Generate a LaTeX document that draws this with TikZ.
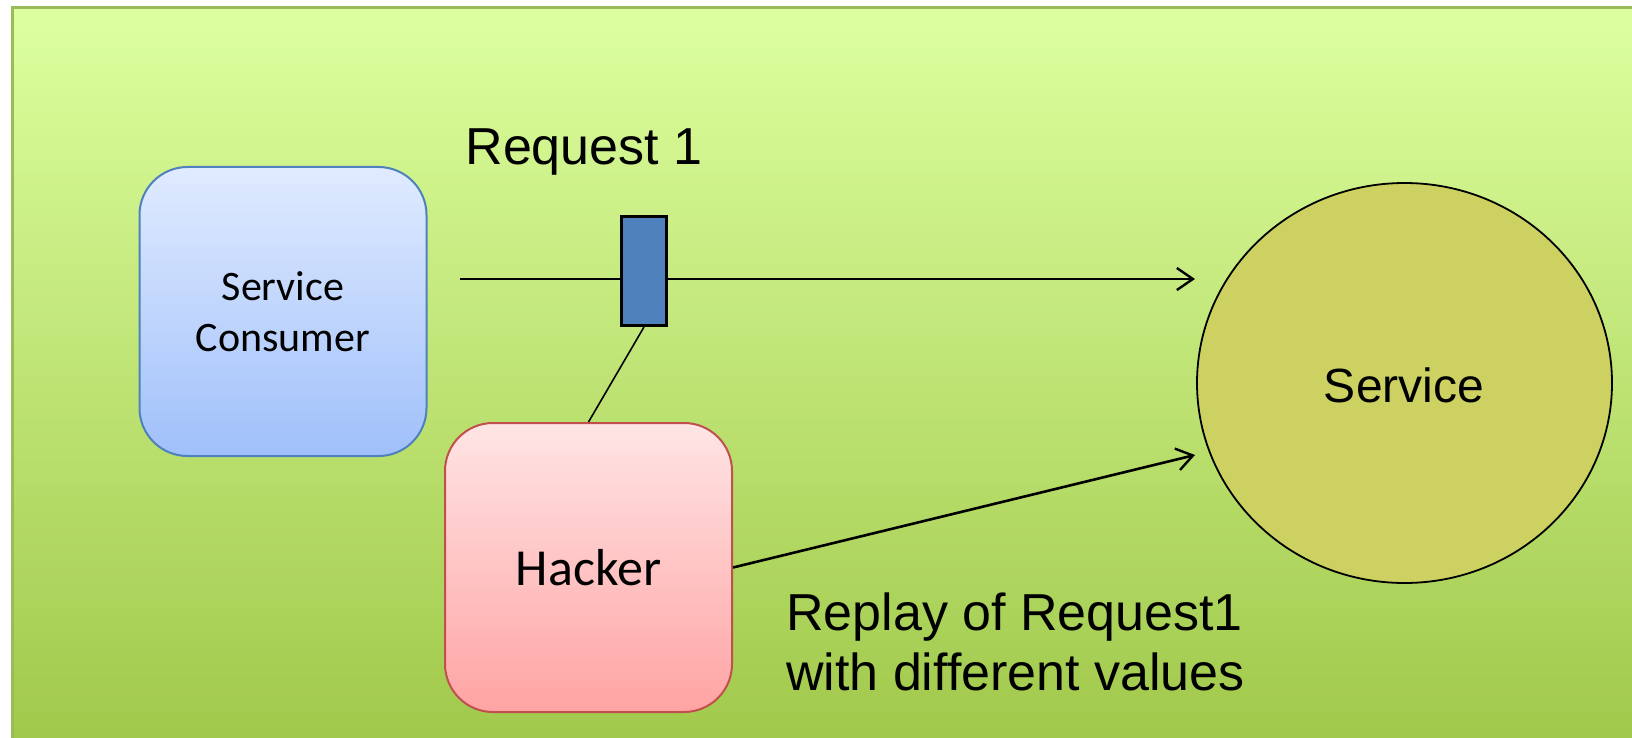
\documentclass[tikz,border=0pt]{standalone}
\usepackage{fontspec}
\setmainfont{Liberation Sans}
\newfontfamily\calibrilike{Carlito}
\usetikzlibrary{arrows.meta,shapes.geometric}

\definecolor{bgtop}{RGB}{221,255,159}
\definecolor{bgbottom}{RGB}{160,200,74}
\definecolor{bgline}{RGB}{155,187,89}
\definecolor{consumertop}{RGB}{224,235,255}
\definecolor{consumerbottom}{RGB}{160,192,250}
\definecolor{consumerline}{RGB}{79,129,189}
\definecolor{hackertop}{RGB}{255,229,229}
\definecolor{hackerbottom}{RGB}{255,163,163}
\definecolor{hackerline}{RGB}{192,80,77}
\definecolor{msgfill}{RGB}{79,129,189}
\definecolor{servicefill}{RGB}{204,209,98}

\tikzset{
  actor/.style={rounded corners=48pt, minimum width=287pt, minimum height=289pt,
    line width=2pt, align=center, inner sep=0pt},
  consumerbox/.style={actor, draw=consumerline, top color=consumertop, bottom color=consumerbottom,
    font=\calibrilike\fontsize{42}{51}\selectfont},
  hackerbox/.style={actor, draw=hackerline, top color=hackertop, bottom color=hackerbottom,
    font=\calibrilike\fontsize{52}{62}\selectfont},
  msgbox/.style={draw=black, fill=msgfill, line width=3pt, minimum width=45pt, minimum height=109pt, inner sep=0pt},
  servicebubble/.style={ellipse, draw=black, fill=servicefill, line width=1.8pt,
    minimum width=415pt, minimum height=400pt, inner sep=0pt},
  caption/.style={font=\fontsize{52}{60}\selectfont, inner sep=0pt},
  flow/.style={line width=2.6pt, -{Straight Barb[length=16pt,width=22pt,line width=2.4pt]}},
}

\begin{document}
\begin{tikzpicture}[x=1pt, y=-1pt]
  \useasboundingbox (0,0) rectangle (1632,738);

  % backdrop with gradient
  \shade[top color=bgtop, bottom color=bgbottom] (12,7.5) rectangle (1645,750);
  \draw[bgline, line width=3pt] (12,750) -- (12,7.5) -- (1645,7.5);

  % participants
  \node[consumerbox] (consumer) at (283,311.5) {Service\\Consumer};
  \node[hackerbox] (hacker) at (588.5,567.5) {Hacker};
  \node[servicebubble] (service) at (1404.5,383) {};
  \node[anchor=base, font=\fontsize{48}{58}\selectfont, inner sep=0pt] (servicelabel) at (1404,402) {Service};

  % intercepted message
  \node[msgbox] (msg) at (644,271) {};
  \coordinate (reqstart) at (460,279);
  \coordinate (reqend) at (1195,279);
  \coordinate (replayend) at (1195,455);

  \draw[line width=2.6pt] (reqstart) -- (reqstart -| msg.west);
  \draw[flow] (reqend -| msg.east) -- (reqend);
  \draw[line width=1.6pt] (msg.south) -- (hacker.north);
  \draw[flow] (hacker.east) -- (replayend);

  % labels
  \node[caption, anchor=base] (reqlabel) at (584,165) {Request 1};
  \node[caption, anchor=base west] (replay1) at (786,630) {Replay of Request1};
  \node[caption, anchor=base west] (replay2) at (786,690) {with different values};
\end{tikzpicture}
\end{document}
